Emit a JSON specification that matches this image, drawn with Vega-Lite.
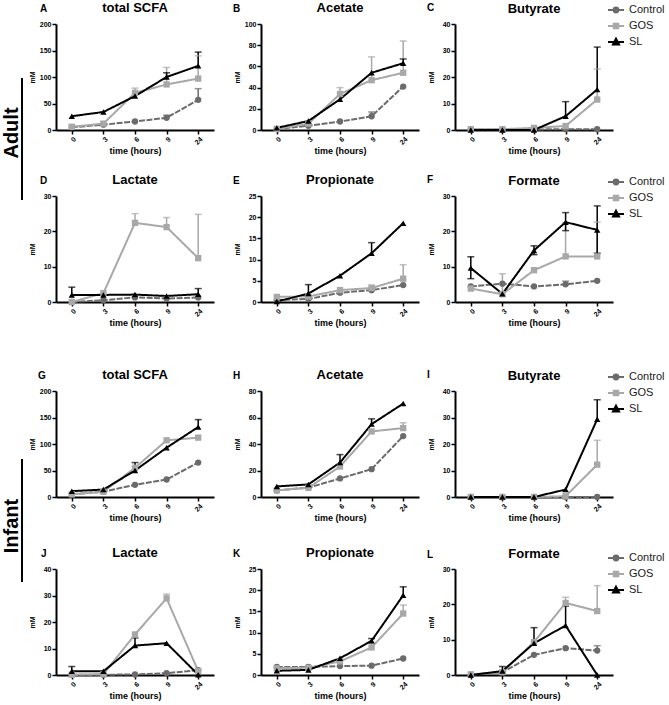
{
"$schema": "https://vega.github.io/schema/vega-lite/v6.json",
"padding": {"left": 0, "top": 1, "right": 0, "bottom": 0},
"config": {
 "view": {"stroke": null},
 "font": "Liberation Sans",
 "axis": {"domainColor": "#000", "domainWidth": 2, "tickColor": "#000", "tickWidth": 1.5, "tickSize": 4, "labelFont": "Liberation Sans", "labelFontWeight": "bold", "labelFontSize": 7, "labelColor": "#000", "titleFont": "Liberation Sans", "titleFontWeight": "bold", "titleColor": "#000", "grid": false},
 "axisX": {"labelAngle": -45, "titleFontSize": 9, "titlePadding": 1, "labelPadding": 1},
 "axisY": {"titleFontSize": 7, "minExtent": 19, "maxExtent": 19, "titlePadding": 2, "labelPadding": 1},
 "title": {"font": "Liberation Sans", "fontSize": 13, "fontWeight": "bold", "color": "#000", "offset": 5}
},
"datasets": {
"d": [
{"panel":"A","group":"Control","time":0,"mean":5},
{"panel":"A","group":"Control","time":3,"mean":10},
{"panel":"A","group":"Control","time":6,"mean":16},
{"panel":"A","group":"Control","time":9,"mean":23,"upper":28},
{"panel":"A","group":"Control","time":24,"mean":57,"upper":78},
{"panel":"A","group":"GOS","time":0,"mean":6,"upper":10},
{"panel":"A","group":"GOS","time":3,"mean":12},
{"panel":"A","group":"GOS","time":6,"mean":70,"upper":79},
{"panel":"A","group":"GOS","time":9,"mean":86,"upper":118},
{"panel":"A","group":"GOS","time":24,"mean":97,"upper":140},
{"panel":"A","group":"SL","time":0,"mean":26},
{"panel":"A","group":"SL","time":3,"mean":34},
{"panel":"A","group":"SL","time":6,"mean":64},
{"panel":"A","group":"SL","time":9,"mean":100,"upper":108},
{"panel":"A","group":"SL","time":24,"mean":121,"upper":147},
{"panel":"B","group":"Control","time":0,"mean":1},
{"panel":"B","group":"Control","time":3,"mean":4},
{"panel":"B","group":"Control","time":6,"mean":8},
{"panel":"B","group":"Control","time":9,"mean":13,"upper":17},
{"panel":"B","group":"Control","time":24,"mean":41},
{"panel":"B","group":"GOS","time":0,"mean":1},
{"panel":"B","group":"GOS","time":3,"mean":6},
{"panel":"B","group":"GOS","time":6,"mean":34,"upper":40},
{"panel":"B","group":"GOS","time":9,"mean":47,"upper":69},
{"panel":"B","group":"GOS","time":24,"mean":54,"upper":84},
{"panel":"B","group":"SL","time":0,"mean":2},
{"panel":"B","group":"SL","time":3,"mean":8.5},
{"panel":"B","group":"SL","time":6,"mean":29},
{"panel":"B","group":"SL","time":9,"mean":54},
{"panel":"B","group":"SL","time":24,"mean":63,"upper":67},
{"panel":"C","group":"Control","time":0,"mean":0.2},
{"panel":"C","group":"Control","time":3,"mean":0.2},
{"panel":"C","group":"Control","time":6,"mean":0.2},
{"panel":"C","group":"Control","time":9,"mean":0.3},
{"panel":"C","group":"Control","time":24,"mean":0.3},
{"panel":"C","group":"GOS","time":0,"mean":0.3},
{"panel":"C","group":"GOS","time":3,"mean":0.3},
{"panel":"C","group":"GOS","time":6,"mean":0.8},
{"panel":"C","group":"GOS","time":9,"mean":1.5},
{"panel":"C","group":"GOS","time":24,"mean":11.5,"upper":23},
{"panel":"C","group":"SL","time":0,"mean":0},
{"panel":"C","group":"SL","time":3,"mean":0},
{"panel":"C","group":"SL","time":6,"mean":0},
{"panel":"C","group":"SL","time":9,"mean":5.2,"upper":10.7},
{"panel":"C","group":"SL","time":24,"mean":15.3,"upper":31.3},
{"panel":"D","group":"Control","time":0,"mean":0},
{"panel":"D","group":"Control","time":3,"mean":0.5},
{"panel":"D","group":"Control","time":6,"mean":1.3},
{"panel":"D","group":"Control","time":9,"mean":1.0},
{"panel":"D","group":"Control","time":24,"mean":1.3},
{"panel":"D","group":"GOS","time":0,"mean":0},
{"panel":"D","group":"GOS","time":3,"mean":2.5},
{"panel":"D","group":"GOS","time":6,"mean":22.4,"upper":25},
{"panel":"D","group":"GOS","time":9,"mean":21.2,"upper":23.9},
{"panel":"D","group":"GOS","time":24,"mean":12.4,"upper":24.8},
{"panel":"D","group":"SL","time":0,"mean":2,"upper":4.2},
{"panel":"D","group":"SL","time":3,"mean":2},
{"panel":"D","group":"SL","time":6,"mean":2.1},
{"panel":"D","group":"SL","time":9,"mean":1.7},
{"panel":"D","group":"SL","time":24,"mean":2.2,"upper":3.8},
{"panel":"E","group":"Control","time":0,"mean":0.5},
{"panel":"E","group":"Control","time":3,"mean":0.7},
{"panel":"E","group":"Control","time":6,"mean":2.2},
{"panel":"E","group":"Control","time":9,"mean":2.8},
{"panel":"E","group":"Control","time":24,"mean":4.0},
{"panel":"E","group":"GOS","time":0,"mean":1.2},
{"panel":"E","group":"GOS","time":3,"mean":1.3},
{"panel":"E","group":"GOS","time":6,"mean":2.8},
{"panel":"E","group":"GOS","time":9,"mean":3.3,"upper":4},
{"panel":"E","group":"GOS","time":24,"mean":5.5,"upper":8.8},
{"panel":"E","group":"SL","time":0,"mean":0.1},
{"panel":"E","group":"SL","time":3,"mean":2,"upper":4.1},
{"panel":"E","group":"SL","time":6,"mean":6.2},
{"panel":"E","group":"SL","time":9,"mean":11.5,"upper":14},
{"panel":"E","group":"SL","time":24,"mean":18.6},
{"panel":"F","group":"Control","time":0,"mean":4.4},
{"panel":"F","group":"Control","time":3,"mean":5.2},
{"panel":"F","group":"Control","time":6,"mean":4.4},
{"panel":"F","group":"Control","time":9,"mean":5,"upper":5.9},
{"panel":"F","group":"Control","time":24,"mean":6},
{"panel":"F","group":"GOS","time":0,"mean":3.8},
{"panel":"F","group":"GOS","time":3,"mean":2.2,"upper":8},
{"panel":"F","group":"GOS","time":6,"mean":9},
{"panel":"F","group":"GOS","time":9,"mean":12.9,"upper":22.5},
{"panel":"F","group":"GOS","time":24,"mean":12.9,"upper":22.6},
{"panel":"F","group":"SL","time":0,"mean":9.6,"upper":12.8,"lower":6.6},
{"panel":"F","group":"SL","time":3,"mean":2.3},
{"panel":"F","group":"SL","time":6,"mean":14.6,"upper":15.9,"lower":13.4},
{"panel":"F","group":"SL","time":9,"mean":22.6,"upper":25.3,"lower":20.2},
{"panel":"F","group":"SL","time":24,"mean":20.4,"upper":27.2,"lower":13.8},
{"panel":"G","group":"Control","time":0,"mean":5},
{"panel":"G","group":"Control","time":3,"mean":10},
{"panel":"G","group":"Control","time":6,"mean":23},
{"panel":"G","group":"Control","time":9,"mean":33},
{"panel":"G","group":"Control","time":24,"mean":65},
{"panel":"G","group":"GOS","time":0,"mean":5},
{"panel":"G","group":"GOS","time":3,"mean":10},
{"panel":"G","group":"GOS","time":6,"mean":55},
{"panel":"G","group":"GOS","time":9,"mean":107},
{"panel":"G","group":"GOS","time":24,"mean":112},
{"panel":"G","group":"SL","time":0,"mean":11},
{"panel":"G","group":"SL","time":3,"mean":14},
{"panel":"G","group":"SL","time":6,"mean":50,"upper":65},
{"panel":"G","group":"SL","time":9,"mean":93},
{"panel":"G","group":"SL","time":24,"mean":132,"upper":146},
{"panel":"H","group":"Control","time":0,"mean":5},
{"panel":"H","group":"Control","time":3,"mean":7},
{"panel":"H","group":"Control","time":6,"mean":14},
{"panel":"H","group":"Control","time":9,"mean":21},
{"panel":"H","group":"Control","time":24,"mean":46},
{"panel":"H","group":"GOS","time":0,"mean":5},
{"panel":"H","group":"GOS","time":3,"mean":7},
{"panel":"H","group":"GOS","time":6,"mean":23},
{"panel":"H","group":"GOS","time":9,"mean":49.5},
{"panel":"H","group":"GOS","time":24,"mean":52,"upper":56},
{"panel":"H","group":"SL","time":0,"mean":8},
{"panel":"H","group":"SL","time":3,"mean":9.5},
{"panel":"H","group":"SL","time":6,"mean":26,"upper":32},
{"panel":"H","group":"SL","time":9,"mean":55,"upper":59},
{"panel":"H","group":"SL","time":24,"mean":70.5},
{"panel":"I","group":"Control","time":0,"mean":0},
{"panel":"I","group":"Control","time":3,"mean":0},
{"panel":"I","group":"Control","time":6,"mean":0},
{"panel":"I","group":"Control","time":9,"mean":0},
{"panel":"I","group":"Control","time":24,"mean":0},
{"panel":"I","group":"GOS","time":0,"mean":0},
{"panel":"I","group":"GOS","time":3,"mean":0},
{"panel":"I","group":"GOS","time":6,"mean":0},
{"panel":"I","group":"GOS","time":9,"mean":0.3},
{"panel":"I","group":"GOS","time":24,"mean":12.2,"upper":21.4},
{"panel":"I","group":"SL","time":0,"mean":0},
{"panel":"I","group":"SL","time":3,"mean":0},
{"panel":"I","group":"SL","time":6,"mean":0},
{"panel":"I","group":"SL","time":9,"mean":2.8},
{"panel":"I","group":"SL","time":24,"mean":29.3,"upper":36.7},
{"panel":"J","group":"Control","time":0,"mean":0.1},
{"panel":"J","group":"Control","time":3,"mean":0.1},
{"panel":"J","group":"Control","time":6,"mean":0.2},
{"panel":"J","group":"Control","time":9,"mean":0.7},
{"panel":"J","group":"Control","time":24,"mean":1.8},
{"panel":"J","group":"GOS","time":0,"mean":0.1},
{"panel":"J","group":"GOS","time":3,"mean":0.3},
{"panel":"J","group":"GOS","time":6,"mean":15.3},
{"panel":"J","group":"GOS","time":9,"mean":28.9,"upper":30.5},
{"panel":"J","group":"GOS","time":24,"mean":1.5},
{"panel":"J","group":"SL","time":0,"mean":1.4,"upper":3.2},
{"panel":"J","group":"SL","time":3,"mean":1.4},
{"panel":"J","group":"SL","time":6,"mean":11.1,"upper":14},
{"panel":"J","group":"SL","time":9,"mean":12},
{"panel":"J","group":"SL","time":24,"mean":0.1},
{"panel":"K","group":"Control","time":0,"mean":1.9},
{"panel":"K","group":"Control","time":3,"mean":1.9},
{"panel":"K","group":"Control","time":6,"mean":2.1},
{"panel":"K","group":"Control","time":9,"mean":2.2},
{"panel":"K","group":"Control","time":24,"mean":3.9},
{"panel":"K","group":"GOS","time":0,"mean":1.6},
{"panel":"K","group":"GOS","time":3,"mean":1.7},
{"panel":"K","group":"GOS","time":6,"mean":3.2},
{"panel":"K","group":"GOS","time":9,"mean":6.5,"upper":7.5},
{"panel":"K","group":"GOS","time":24,"mean":14.5,"upper":16.5},
{"panel":"K","group":"SL","time":0,"mean":1.0},
{"panel":"K","group":"SL","time":3,"mean":1.2},
{"panel":"K","group":"SL","time":6,"mean":3.95},
{"panel":"K","group":"SL","time":9,"mean":8.07,"upper":8.6},
{"panel":"K","group":"SL","time":24,"mean":18.8,"upper":20.8},
{"panel":"L","group":"Control","time":0,"mean":0},
{"panel":"L","group":"Control","time":3,"mean":0.8},
{"panel":"L","group":"Control","time":6,"mean":5.7},
{"panel":"L","group":"Control","time":9,"mean":7.6},
{"panel":"L","group":"Control","time":24,"mean":6.9,"upper":8.3},
{"panel":"L","group":"GOS","time":0,"mean":0.2},
{"panel":"L","group":"GOS","time":3,"mean":0.8},
{"panel":"L","group":"GOS","time":6,"mean":9.3},
{"panel":"L","group":"GOS","time":9,"mean":20.4,"upper":22},
{"panel":"L","group":"GOS","time":24,"mean":18.1,"upper":25.3},
{"panel":"L","group":"SL","time":0,"mean":0},
{"panel":"L","group":"SL","time":3,"mean":1.1,"upper":2.4},
{"panel":"L","group":"SL","time":6,"mean":9,"upper":13.4},
{"panel":"L","group":"SL","time":9,"mean":14,"upper":19.5},
{"panel":"L","group":"SL","time":24,"mean":0}
]
},
"vconcat": [
{"spacing": 4, "hconcat": [
 {"width": 24, "height": 300, "data": {"values": [{"group": "Adult"}]},
  "layer": [
   {"mark": {"type": "text", "angle": 270, "fontSize": 20, "fontWeight": "bold", "font": "Liberation Sans", "baseline": "middle", "align": "center", "color": "#000"},
    "encoding": {"text": {"field": "group"},
     "x": {"datum": 12, "type": "quantitative", "scale": {"domain": [0, 24], "nice": false, "zero": false}, "axis": null},
     "y": {"datum": 109, "type": "quantitative", "scale": {"domain": [0, 300], "reverse": true, "nice": false}, "axis": null}}},
   {"mark": {"type": "rule", "strokeWidth": 2, "color": "#000"},
    "encoding": {"x": {"datum": 22, "type": "quantitative", "scale": {"domain": [0, 24], "nice": false, "zero": false}, "axis": null},
     "y": {"datum": 54, "type": "quantitative", "scale": {"domain": [0, 300], "reverse": true, "nice": false}, "axis": null},
     "y2": {"datum": 176}}}
  ]},
 {"spacing": 17, "vconcat": [
  {"spacing": 19, "hconcat": [
   {"title": {"text": "A", "anchor": "start", "frame": "bounds", "fontSize": 10, "offset": -12, "dx": 12}, "vconcat": [
    {"width": 158, "height": 106, "title": {"text": "total SCFA"}, "data": {"name": "d"}, "transform": [{"filter": "datum.panel == 'A'"}],
     "encoding": {"x": {"field": "time", "type": "ordinal", "scale": {"type": "point", "domain": [0,3,6,9,24], "padding": 0.5}, "axis": {"title": "time (hours)"}},
      "y": {"field": "mean", "type": "quantitative", "scale": {"domain": [0, 200], "nice": false}, "axis": {"values": [0,50,100,150,200], "title": "mM"}}},
     "layer": [
      {"transform": [{"filter": "isValid(datum.upper)"}], "mark": {"type": "rule", "strokeWidth": 1.5}, "encoding": {"y2": {"field": "upper"}, "color": {"field": "group", "type": "nominal", "scale": {"domain": ["Control","GOS","SL"], "range": ["#6b6b6b","#a8a8a8","#000000"]}, "legend": null}}},
      {"transform": [{"filter": "isValid(datum.upper)"}], "mark": {"type": "tick", "thickness": 1.5, "size": 7}, "encoding": {"y": {"field": "upper", "type": "quantitative", "scale": {"domain": [0, 200], "nice": false}, "axis": {"values": [0,50,100,150,200], "title": "mM"}}, "color": {"field": "group", "type": "nominal", "legend": null}}},
      {"mark": {"type": "line", "strokeWidth": 2}, "encoding": {"color": {"field": "group", "type": "nominal", "legend": null}, "strokeDash": {"field": "group", "type": "nominal", "scale": {"domain": ["Control","GOS","SL"], "range": [[6,1.5],[1,0],[1,0]]}, "legend": null}}},
      {"mark": {"type": "point", "filled": true, "opacity": 1, "size": 40}, "encoding": {"color": {"field": "group", "type": "nominal", "legend": null}, "shape": {"field": "group", "type": "nominal", "scale": {"domain": ["Control","GOS","SL"], "range": ["circle","square","triangle-up"]}, "legend": null}}}
     ]}
   ]},
   {"spacing": 8, "hconcat": [
    {"title": {"text": "B", "anchor": "start", "frame": "bounds", "fontSize": 10, "offset": -12, "dx": 0}, "vconcat": [
     {"width": 158, "height": 106, "title": {"text": "Acetate"}, "data": {"name": "d"}, "transform": [{"filter": "datum.panel == 'B'"}],
      "encoding": {"x": {"field": "time", "type": "ordinal", "scale": {"type": "point", "domain": [0,3,6,9,24], "padding": 0.5}, "axis": {"title": "time (hours)"}},
       "y": {"field": "mean", "type": "quantitative", "scale": {"domain": [0, 100], "nice": false}, "axis": {"values": [0,20,40,60,80,100], "title": "mM"}}},
      "layer": [
       {"transform": [{"filter": "isValid(datum.upper)"}], "mark": {"type": "rule", "strokeWidth": 1.5}, "encoding": {"y2": {"field": "upper"}, "color": {"field": "group", "type": "nominal", "scale": {"domain": ["Control","GOS","SL"], "range": ["#6b6b6b","#a8a8a8","#000000"]}, "legend": null}}},
       {"transform": [{"filter": "isValid(datum.upper)"}], "mark": {"type": "tick", "thickness": 1.5, "size": 7}, "encoding": {"y": {"field": "upper", "type": "quantitative", "scale": {"domain": [0, 100], "nice": false}, "axis": {"values": [0,20,40,60,80,100], "title": "mM"}}, "color": {"field": "group", "type": "nominal", "legend": null}}},
       {"mark": {"type": "line", "strokeWidth": 2}, "encoding": {"color": {"field": "group", "type": "nominal", "legend": null}, "strokeDash": {"field": "group", "type": "nominal", "scale": {"domain": ["Control","GOS","SL"], "range": [[6,1.5],[1,0],[1,0]]}, "legend": null}}},
       {"mark": {"type": "point", "filled": true, "opacity": 1, "size": 40}, "encoding": {"color": {"field": "group", "type": "nominal", "legend": null}, "shape": {"field": "group", "type": "nominal", "scale": {"domain": ["Control","GOS","SL"], "range": ["circle","square","triangle-up"]}, "legend": null}}}
      ]}
    ]},
    {"title": {"text": "C", "anchor": "start", "frame": "bounds", "fontSize": 10, "offset": -12, "dx": 0}, "vconcat": [
     {"width": 158, "height": 106, "title": {"text": "Butyrate", "offset": -14.5}, "data": {"name": "d"}, "transform": [{"filter": "datum.panel == 'C'"}],
      "encoding": {"x": {"field": "time", "type": "ordinal", "scale": {"type": "point", "domain": [0,3,6,9,24], "padding": 0.5}, "axis": {"title": "time (hours)"}},
       "y": {"field": "mean", "type": "quantitative", "scale": {"domain": [0, 40], "nice": false}, "axis": {"values": [0,10,20,30,40], "title": "mM"}}},
      "resolve": {"scale": {"fill": "independent", "stroke": "independent", "shape": "independent"}},
      "layer": [
       {"transform": [{"filter": "isValid(datum.upper)"}], "mark": {"type": "rule", "strokeWidth": 1.5}, "encoding": {"y2": {"field": "upper"}, "color": {"field": "group", "type": "nominal", "scale": {"domain": ["Control","GOS","SL"], "range": ["#6b6b6b","#a8a8a8","#000000"]}, "legend": null}}},
       {"transform": [{"filter": "isValid(datum.upper)"}], "mark": {"type": "tick", "thickness": 1.5, "size": 7}, "encoding": {"y": {"field": "upper", "type": "quantitative", "scale": {"domain": [0, 40], "nice": false}, "axis": {"values": [0,10,20,30,40], "title": "mM"}}, "color": {"field": "group", "type": "nominal", "legend": null}}},
       {"mark": {"type": "line", "strokeWidth": 2}, "encoding": {"color": {"field": "group", "type": "nominal", "legend": null}, "strokeDash": {"field": "group", "type": "nominal", "scale": {"domain": ["Control","GOS","SL"], "range": [[6,1.5],[1,0],[1,0]]}, "legend": null}}},
       {"mark": {"type": "point", "filled": true, "opacity": 1, "size": 40}, "encoding": {"color": {"field": "group", "type": "nominal", "legend": null}, "shape": {"field": "group", "type": "nominal", "scale": {"domain": ["Control","GOS","SL"], "range": ["circle","square","triangle-up"]}, "legend": null}}},
       {"transform": [{"filter": "false"}], "mark": {"type": "point", "strokeWidth": 2, "size": 256, "opacity": 1},
        "encoding": {
         "fill": {"field": "group", "type": "nominal", "scale": {"domain": ["Control","GOS","SL"], "range": ["#6b6b6b","#a8a8a8","#000000"]}, "legend": {"orient": "none", "legendX": 152, "legendY": -23, "title": null, "symbolSize": 256, "symbolStrokeWidth": 2, "labelFontSize": 11, "labelFont": "Liberation Sans", "labelColor": "#1a1a1a", "rowPadding": 0, "labelOffset": 4, "padding": 0}},
         "stroke": {"field": "group", "type": "nominal", "scale": {"domain": ["Control","GOS","SL"], "range": ["#6b6b6b","#a8a8a8","#000000"]}, "legend": {"orient": "none", "legendX": 152, "legendY": -23, "title": null, "symbolSize": 256, "symbolStrokeWidth": 2, "labelFontSize": 11, "labelFont": "Liberation Sans", "labelColor": "#1a1a1a", "rowPadding": 0, "labelOffset": 4, "padding": 0}},
         "shape": {"field": "group", "type": "nominal", "scale": {"domain": ["Control","GOS","SL"], "range": ["M-1,0H1M0.3,0A0.3,0.3,0,1,1,-0.3,0A0.3,0.3,0,1,1,0.3,0Z", "M-1,0H1M-0.28,-0.28H0.28V0.28H-0.28Z", "M-1,0H1M0,-0.42L0.38,0.3L-0.38,0.3Z"]}, "legend": {"orient": "none", "legendX": 152, "legendY": -23, "title": null, "symbolSize": 256, "symbolStrokeWidth": 2, "labelFontSize": 11, "labelFont": "Liberation Sans", "labelColor": "#1a1a1a", "rowPadding": 0, "labelOffset": 4, "padding": 0}}
        }}
      ]}
    ]}
   ]}
  ]},
  {"spacing": 19, "hconcat": [
   {"title": {"text": "D", "anchor": "start", "frame": "bounds", "fontSize": 10, "offset": -12, "dx": 12}, "vconcat": [
    {"width": 158, "height": 106, "title": {"text": "Lactate"}, "data": {"name": "d"}, "transform": [{"filter": "datum.panel == 'D'"}],
     "encoding": {"x": {"field": "time", "type": "ordinal", "scale": {"type": "point", "domain": [0,3,6,9,24], "padding": 0.5}, "axis": {"title": "time (hours)"}},
      "y": {"field": "mean", "type": "quantitative", "scale": {"domain": [0, 30], "nice": false}, "axis": {"values": [0,10,20,30], "title": "mM"}}},
     "layer": [
      {"transform": [{"filter": "isValid(datum.upper)"}], "mark": {"type": "rule", "strokeWidth": 1.5}, "encoding": {"y2": {"field": "upper"}, "color": {"field": "group", "type": "nominal", "scale": {"domain": ["Control","GOS","SL"], "range": ["#6b6b6b","#a8a8a8","#000000"]}, "legend": null}}},
      {"transform": [{"filter": "isValid(datum.upper)"}], "mark": {"type": "tick", "thickness": 1.5, "size": 7}, "encoding": {"y": {"field": "upper", "type": "quantitative", "scale": {"domain": [0, 30], "nice": false}, "axis": {"values": [0,10,20,30], "title": "mM"}}, "color": {"field": "group", "type": "nominal", "legend": null}}},
      {"mark": {"type": "line", "strokeWidth": 2}, "encoding": {"color": {"field": "group", "type": "nominal", "legend": null}, "strokeDash": {"field": "group", "type": "nominal", "scale": {"domain": ["Control","GOS","SL"], "range": [[6,1.5],[1,0],[1,0]]}, "legend": null}}},
      {"mark": {"type": "point", "filled": true, "opacity": 1, "size": 40}, "encoding": {"color": {"field": "group", "type": "nominal", "legend": null}, "shape": {"field": "group", "type": "nominal", "scale": {"domain": ["Control","GOS","SL"], "range": ["circle","square","triangle-up"]}, "legend": null}}}
     ]}
   ]},
   {"spacing": 8, "hconcat": [
    {"title": {"text": "E", "anchor": "start", "frame": "bounds", "fontSize": 10, "offset": -12, "dx": 0}, "vconcat": [
     {"width": 158, "height": 106, "title": {"text": "Propionate"}, "data": {"name": "d"}, "transform": [{"filter": "datum.panel == 'E'"}],
      "encoding": {"x": {"field": "time", "type": "ordinal", "scale": {"type": "point", "domain": [0,3,6,9,24], "padding": 0.5}, "axis": {"title": "time (hours)"}},
       "y": {"field": "mean", "type": "quantitative", "scale": {"domain": [0, 25], "nice": false}, "axis": {"values": [0,5,10,15,20,25], "title": "mM"}}},
      "layer": [
       {"transform": [{"filter": "isValid(datum.upper)"}], "mark": {"type": "rule", "strokeWidth": 1.5}, "encoding": {"y2": {"field": "upper"}, "color": {"field": "group", "type": "nominal", "scale": {"domain": ["Control","GOS","SL"], "range": ["#6b6b6b","#a8a8a8","#000000"]}, "legend": null}}},
       {"transform": [{"filter": "isValid(datum.upper)"}], "mark": {"type": "tick", "thickness": 1.5, "size": 7}, "encoding": {"y": {"field": "upper", "type": "quantitative", "scale": {"domain": [0, 25], "nice": false}, "axis": {"values": [0,5,10,15,20,25], "title": "mM"}}, "color": {"field": "group", "type": "nominal", "legend": null}}},
       {"mark": {"type": "line", "strokeWidth": 2}, "encoding": {"color": {"field": "group", "type": "nominal", "legend": null}, "strokeDash": {"field": "group", "type": "nominal", "scale": {"domain": ["Control","GOS","SL"], "range": [[6,1.5],[1,0],[1,0]]}, "legend": null}}},
       {"mark": {"type": "point", "filled": true, "opacity": 1, "size": 40}, "encoding": {"color": {"field": "group", "type": "nominal", "legend": null}, "shape": {"field": "group", "type": "nominal", "scale": {"domain": ["Control","GOS","SL"], "range": ["circle","square","triangle-up"]}, "legend": null}}}
      ]}
    ]},
    {"title": {"text": "F", "anchor": "start", "frame": "bounds", "fontSize": 10, "offset": -12, "dx": 0}, "vconcat": [
     {"width": 158, "height": 106, "title": {"text": "Formate", "offset": -14.5}, "data": {"name": "d"}, "transform": [{"filter": "datum.panel == 'F'"}],
      "encoding": {"x": {"field": "time", "type": "ordinal", "scale": {"type": "point", "domain": [0,3,6,9,24], "padding": 0.5}, "axis": {"title": "time (hours)"}},
       "y": {"field": "mean", "type": "quantitative", "scale": {"domain": [0, 30], "nice": false}, "axis": {"values": [0,10,20,30], "title": "mM"}}},
      "resolve": {"scale": {"fill": "independent", "stroke": "independent", "shape": "independent"}},
      "layer": [
       {"transform": [{"filter": "isValid(datum.upper)"}], "mark": {"type": "rule", "strokeWidth": 1.5}, "encoding": {"y2": {"field": "upper"}, "color": {"field": "group", "type": "nominal", "scale": {"domain": ["Control","GOS","SL"], "range": ["#6b6b6b","#a8a8a8","#000000"]}, "legend": null}}},
       {"transform": [{"filter": "isValid(datum.upper)"}], "mark": {"type": "tick", "thickness": 1.5, "size": 7}, "encoding": {"y": {"field": "upper", "type": "quantitative", "scale": {"domain": [0, 30], "nice": false}, "axis": {"values": [0,10,20,30], "title": "mM"}}, "color": {"field": "group", "type": "nominal", "legend": null}}},
       {"transform": [{"filter": "isValid(datum.lower)"}], "mark": {"type": "rule", "strokeWidth": 1.5}, "encoding": {"y2": {"field": "lower"}, "color": {"field": "group", "type": "nominal", "legend": null}}},
       {"transform": [{"filter": "isValid(datum.lower)"}], "mark": {"type": "tick", "thickness": 1.5, "size": 7}, "encoding": {"y": {"field": "lower", "type": "quantitative", "scale": {"domain": [0, 30], "nice": false}, "axis": {"values": [0,10,20,30], "title": "mM"}}, "color": {"field": "group", "type": "nominal", "legend": null}}},
       {"mark": {"type": "line", "strokeWidth": 2}, "encoding": {"color": {"field": "group", "type": "nominal", "legend": null}, "strokeDash": {"field": "group", "type": "nominal", "scale": {"domain": ["Control","GOS","SL"], "range": [[6,1.5],[1,0],[1,0]]}, "legend": null}}},
       {"mark": {"type": "point", "filled": true, "opacity": 1, "size": 40}, "encoding": {"color": {"field": "group", "type": "nominal", "legend": null}, "shape": {"field": "group", "type": "nominal", "scale": {"domain": ["Control","GOS","SL"], "range": ["circle","square","triangle-up"]}, "legend": null}}},
       {"transform": [{"filter": "false"}], "mark": {"type": "point", "strokeWidth": 2, "size": 256, "opacity": 1},
        "encoding": {
         "fill": {"field": "group", "type": "nominal", "scale": {"domain": ["Control","GOS","SL"], "range": ["#6b6b6b","#a8a8a8","#000000"]}, "legend": {"orient": "none", "legendX": 152, "legendY": -23, "title": null, "symbolSize": 256, "symbolStrokeWidth": 2, "labelFontSize": 11, "labelFont": "Liberation Sans", "labelColor": "#1a1a1a", "rowPadding": 0, "labelOffset": 4, "padding": 0}},
         "stroke": {"field": "group", "type": "nominal", "scale": {"domain": ["Control","GOS","SL"], "range": ["#6b6b6b","#a8a8a8","#000000"]}, "legend": {"orient": "none", "legendX": 152, "legendY": -23, "title": null, "symbolSize": 256, "symbolStrokeWidth": 2, "labelFontSize": 11, "labelFont": "Liberation Sans", "labelColor": "#1a1a1a", "rowPadding": 0, "labelOffset": 4, "padding": 0}},
         "shape": {"field": "group", "type": "nominal", "scale": {"domain": ["Control","GOS","SL"], "range": ["M-1,0H1M0.3,0A0.3,0.3,0,1,1,-0.3,0A0.3,0.3,0,1,1,0.3,0Z", "M-1,0H1M-0.28,-0.28H0.28V0.28H-0.28Z", "M-1,0H1M0,-0.42L0.38,0.3L-0.38,0.3Z"]}, "legend": {"orient": "none", "legendX": 152, "legendY": -23, "title": null, "symbolSize": 256, "symbolStrokeWidth": 2, "labelFontSize": 11, "labelFont": "Liberation Sans", "labelColor": "#1a1a1a", "rowPadding": 0, "labelOffset": 4, "padding": 0}}
        }}
      ]}
    ]}
   ]}
  ]}
 ]}
]},
{"spacing": 4, "hconcat": [
 {"width": 24, "height": 300, "data": {"values": [{"group": "Infant"}]},
  "layer": [
   {"mark": {"type": "text", "angle": 270, "fontSize": 20, "fontWeight": "bold", "font": "Liberation Sans", "baseline": "middle", "align": "center", "color": "#000"},
    "encoding": {"text": {"field": "group"},
     "x": {"datum": 12, "type": "quantitative", "scale": {"domain": [0, 24], "nice": false, "zero": false}, "axis": null},
     "y": {"datum": 135, "type": "quantitative", "scale": {"domain": [0, 300], "reverse": true, "nice": false}, "axis": null}}},
   {"mark": {"type": "rule", "strokeWidth": 2, "color": "#000"},
    "encoding": {"x": {"datum": 22, "type": "quantitative", "scale": {"domain": [0, 24], "nice": false, "zero": false}, "axis": null},
     "y": {"datum": 68, "type": "quantitative", "scale": {"domain": [0, 300], "reverse": true, "nice": false}, "axis": null},
     "y2": {"datum": 191}}}
  ]},
 {"spacing": 24, "vconcat": [
  {"spacing": 19, "hconcat": [
   {"title": {"text": "G", "anchor": "start", "frame": "bounds", "fontSize": 10, "offset": -12, "dx": 10}, "vconcat": [
    {"width": 158, "height": 106, "title": {"text": "total SCFA"}, "data": {"name": "d"}, "transform": [{"filter": "datum.panel == 'G'"}],
     "encoding": {"x": {"field": "time", "type": "ordinal", "scale": {"type": "point", "domain": [0,3,6,9,24], "padding": 0.5}, "axis": {"title": "time (hours)"}},
      "y": {"field": "mean", "type": "quantitative", "scale": {"domain": [0, 200], "nice": false}, "axis": {"values": [0,50,100,150,200], "title": "mM"}}},
     "layer": [
      {"transform": [{"filter": "isValid(datum.upper)"}], "mark": {"type": "rule", "strokeWidth": 1.5}, "encoding": {"y2": {"field": "upper"}, "color": {"field": "group", "type": "nominal", "scale": {"domain": ["Control","GOS","SL"], "range": ["#6b6b6b","#a8a8a8","#000000"]}, "legend": null}}},
      {"transform": [{"filter": "isValid(datum.upper)"}], "mark": {"type": "tick", "thickness": 1.5, "size": 7}, "encoding": {"y": {"field": "upper", "type": "quantitative", "scale": {"domain": [0, 200], "nice": false}, "axis": {"values": [0,50,100,150,200], "title": "mM"}}, "color": {"field": "group", "type": "nominal", "legend": null}}},
      {"mark": {"type": "line", "strokeWidth": 2}, "encoding": {"color": {"field": "group", "type": "nominal", "legend": null}, "strokeDash": {"field": "group", "type": "nominal", "scale": {"domain": ["Control","GOS","SL"], "range": [[6,1.5],[1,0],[1,0]]}, "legend": null}}},
      {"mark": {"type": "point", "filled": true, "opacity": 1, "size": 40}, "encoding": {"color": {"field": "group", "type": "nominal", "legend": null}, "shape": {"field": "group", "type": "nominal", "scale": {"domain": ["Control","GOS","SL"], "range": ["circle","square","triangle-up"]}, "legend": null}}}
     ]}
   ]},
   {"spacing": 8, "hconcat": [
    {"title": {"text": "H", "anchor": "start", "frame": "bounds", "fontSize": 10, "offset": -12, "dx": 0}, "vconcat": [
     {"width": 158, "height": 106, "title": {"text": "Acetate"}, "data": {"name": "d"}, "transform": [{"filter": "datum.panel == 'H'"}],
      "encoding": {"x": {"field": "time", "type": "ordinal", "scale": {"type": "point", "domain": [0,3,6,9,24], "padding": 0.5}, "axis": {"title": "time (hours)"}},
       "y": {"field": "mean", "type": "quantitative", "scale": {"domain": [0, 80], "nice": false}, "axis": {"values": [0,20,40,60,80], "title": "mM"}}},
      "layer": [
       {"transform": [{"filter": "isValid(datum.upper)"}], "mark": {"type": "rule", "strokeWidth": 1.5}, "encoding": {"y2": {"field": "upper"}, "color": {"field": "group", "type": "nominal", "scale": {"domain": ["Control","GOS","SL"], "range": ["#6b6b6b","#a8a8a8","#000000"]}, "legend": null}}},
       {"transform": [{"filter": "isValid(datum.upper)"}], "mark": {"type": "tick", "thickness": 1.5, "size": 7}, "encoding": {"y": {"field": "upper", "type": "quantitative", "scale": {"domain": [0, 80], "nice": false}, "axis": {"values": [0,20,40,60,80], "title": "mM"}}, "color": {"field": "group", "type": "nominal", "legend": null}}},
       {"mark": {"type": "line", "strokeWidth": 2}, "encoding": {"color": {"field": "group", "type": "nominal", "legend": null}, "strokeDash": {"field": "group", "type": "nominal", "scale": {"domain": ["Control","GOS","SL"], "range": [[6,1.5],[1,0],[1,0]]}, "legend": null}}},
       {"mark": {"type": "point", "filled": true, "opacity": 1, "size": 40}, "encoding": {"color": {"field": "group", "type": "nominal", "legend": null}, "shape": {"field": "group", "type": "nominal", "scale": {"domain": ["Control","GOS","SL"], "range": ["circle","square","triangle-up"]}, "legend": null}}}
      ]}
    ]},
    {"title": {"text": "I", "anchor": "start", "frame": "bounds", "fontSize": 10, "offset": -12, "dx": 0}, "vconcat": [
     {"width": 158, "height": 106, "title": {"text": "Butyrate", "offset": -14.5}, "data": {"name": "d"}, "transform": [{"filter": "datum.panel == 'I'"}],
      "encoding": {"x": {"field": "time", "type": "ordinal", "scale": {"type": "point", "domain": [0,3,6,9,24], "padding": 0.5}, "axis": {"title": "time (hours)"}},
       "y": {"field": "mean", "type": "quantitative", "scale": {"domain": [0, 40], "nice": false}, "axis": {"values": [0,10,20,30,40], "title": "mM"}}},
      "resolve": {"scale": {"fill": "independent", "stroke": "independent", "shape": "independent"}},
      "layer": [
       {"transform": [{"filter": "isValid(datum.upper)"}], "mark": {"type": "rule", "strokeWidth": 1.5}, "encoding": {"y2": {"field": "upper"}, "color": {"field": "group", "type": "nominal", "scale": {"domain": ["Control","GOS","SL"], "range": ["#6b6b6b","#a8a8a8","#000000"]}, "legend": null}}},
       {"transform": [{"filter": "isValid(datum.upper)"}], "mark": {"type": "tick", "thickness": 1.5, "size": 7}, "encoding": {"y": {"field": "upper", "type": "quantitative", "scale": {"domain": [0, 40], "nice": false}, "axis": {"values": [0,10,20,30,40], "title": "mM"}}, "color": {"field": "group", "type": "nominal", "legend": null}}},
       {"mark": {"type": "line", "strokeWidth": 2}, "encoding": {"color": {"field": "group", "type": "nominal", "legend": null}, "strokeDash": {"field": "group", "type": "nominal", "scale": {"domain": ["Control","GOS","SL"], "range": [[6,1.5],[1,0],[1,0]]}, "legend": null}}},
       {"mark": {"type": "point", "filled": true, "opacity": 1, "size": 40}, "encoding": {"color": {"field": "group", "type": "nominal", "legend": null}, "shape": {"field": "group", "type": "nominal", "scale": {"domain": ["Control","GOS","SL"], "range": ["circle","square","triangle-up"]}, "legend": null}}},
       {"transform": [{"filter": "false"}], "mark": {"type": "point", "strokeWidth": 2, "size": 256, "opacity": 1},
        "encoding": {
         "fill": {"field": "group", "type": "nominal", "scale": {"domain": ["Control","GOS","SL"], "range": ["#6b6b6b","#a8a8a8","#000000"]}, "legend": {"orient": "none", "legendX": 152, "legendY": -23, "title": null, "symbolSize": 256, "symbolStrokeWidth": 2, "labelFontSize": 11, "labelFont": "Liberation Sans", "labelColor": "#1a1a1a", "rowPadding": 0, "labelOffset": 4, "padding": 0}},
         "stroke": {"field": "group", "type": "nominal", "scale": {"domain": ["Control","GOS","SL"], "range": ["#6b6b6b","#a8a8a8","#000000"]}, "legend": {"orient": "none", "legendX": 152, "legendY": -23, "title": null, "symbolSize": 256, "symbolStrokeWidth": 2, "labelFontSize": 11, "labelFont": "Liberation Sans", "labelColor": "#1a1a1a", "rowPadding": 0, "labelOffset": 4, "padding": 0}},
         "shape": {"field": "group", "type": "nominal", "scale": {"domain": ["Control","GOS","SL"], "range": ["M-1,0H1M0.3,0A0.3,0.3,0,1,1,-0.3,0A0.3,0.3,0,1,1,0.3,0Z", "M-1,0H1M-0.28,-0.28H0.28V0.28H-0.28Z", "M-1,0H1M0,-0.42L0.38,0.3L-0.38,0.3Z"]}, "legend": {"orient": "none", "legendX": 152, "legendY": -23, "title": null, "symbolSize": 256, "symbolStrokeWidth": 2, "labelFontSize": 11, "labelFont": "Liberation Sans", "labelColor": "#1a1a1a", "rowPadding": 0, "labelOffset": 4, "padding": 0}}
        }}
      ]}
    ]}
   ]}
  ]},
  {"spacing": 19, "hconcat": [
   {"title": {"text": "J", "anchor": "start", "frame": "bounds", "fontSize": 10, "offset": -12, "dx": 13}, "vconcat": [
    {"width": 158, "height": 106, "title": {"text": "Lactate"}, "data": {"name": "d"}, "transform": [{"filter": "datum.panel == 'J'"}],
     "encoding": {"x": {"field": "time", "type": "ordinal", "scale": {"type": "point", "domain": [0,3,6,9,24], "padding": 0.5}, "axis": {"title": "time (hours)"}},
      "y": {"field": "mean", "type": "quantitative", "scale": {"domain": [0, 40], "nice": false}, "axis": {"values": [0,10,20,30,40], "title": "mM"}}},
     "layer": [
      {"transform": [{"filter": "isValid(datum.upper)"}], "mark": {"type": "rule", "strokeWidth": 1.5}, "encoding": {"y2": {"field": "upper"}, "color": {"field": "group", "type": "nominal", "scale": {"domain": ["Control","GOS","SL"], "range": ["#6b6b6b","#a8a8a8","#000000"]}, "legend": null}}},
      {"transform": [{"filter": "isValid(datum.upper)"}], "mark": {"type": "tick", "thickness": 1.5, "size": 7}, "encoding": {"y": {"field": "upper", "type": "quantitative", "scale": {"domain": [0, 40], "nice": false}, "axis": {"values": [0,10,20,30,40], "title": "mM"}}, "color": {"field": "group", "type": "nominal", "legend": null}}},
      {"mark": {"type": "line", "strokeWidth": 2}, "encoding": {"color": {"field": "group", "type": "nominal", "legend": null}, "strokeDash": {"field": "group", "type": "nominal", "scale": {"domain": ["Control","GOS","SL"], "range": [[6,1.5],[1,0],[1,0]]}, "legend": null}}},
      {"mark": {"type": "point", "filled": true, "opacity": 1, "size": 40}, "encoding": {"color": {"field": "group", "type": "nominal", "legend": null}, "shape": {"field": "group", "type": "nominal", "scale": {"domain": ["Control","GOS","SL"], "range": ["circle","square","triangle-up"]}, "legend": null}}}
     ]}
   ]},
   {"spacing": 8, "hconcat": [
    {"title": {"text": "K", "anchor": "start", "frame": "bounds", "fontSize": 10, "offset": -12, "dx": 0}, "vconcat": [
     {"width": 158, "height": 106, "title": {"text": "Propionate"}, "data": {"name": "d"}, "transform": [{"filter": "datum.panel == 'K'"}],
      "encoding": {"x": {"field": "time", "type": "ordinal", "scale": {"type": "point", "domain": [0,3,6,9,24], "padding": 0.5}, "axis": {"title": "time (hours)"}},
       "y": {"field": "mean", "type": "quantitative", "scale": {"domain": [0, 25], "nice": false}, "axis": {"values": [0,5,10,15,20,25], "title": "mM"}}},
      "layer": [
       {"transform": [{"filter": "isValid(datum.upper)"}], "mark": {"type": "rule", "strokeWidth": 1.5}, "encoding": {"y2": {"field": "upper"}, "color": {"field": "group", "type": "nominal", "scale": {"domain": ["Control","GOS","SL"], "range": ["#6b6b6b","#a8a8a8","#000000"]}, "legend": null}}},
       {"transform": [{"filter": "isValid(datum.upper)"}], "mark": {"type": "tick", "thickness": 1.5, "size": 7}, "encoding": {"y": {"field": "upper", "type": "quantitative", "scale": {"domain": [0, 25], "nice": false}, "axis": {"values": [0,5,10,15,20,25], "title": "mM"}}, "color": {"field": "group", "type": "nominal", "legend": null}}},
       {"mark": {"type": "line", "strokeWidth": 2}, "encoding": {"color": {"field": "group", "type": "nominal", "legend": null}, "strokeDash": {"field": "group", "type": "nominal", "scale": {"domain": ["Control","GOS","SL"], "range": [[6,1.5],[1,0],[1,0]]}, "legend": null}}},
       {"mark": {"type": "point", "filled": true, "opacity": 1, "size": 40}, "encoding": {"color": {"field": "group", "type": "nominal", "legend": null}, "shape": {"field": "group", "type": "nominal", "scale": {"domain": ["Control","GOS","SL"], "range": ["circle","square","triangle-up"]}, "legend": null}}}
      ]}
    ]},
    {"title": {"text": "L", "anchor": "start", "frame": "bounds", "fontSize": 10, "offset": -12, "dx": 0}, "vconcat": [
     {"width": 158, "height": 106, "title": {"text": "Formate", "offset": -11.5}, "data": {"name": "d"}, "transform": [{"filter": "datum.panel == 'L'"}],
      "encoding": {"x": {"field": "time", "type": "ordinal", "scale": {"type": "point", "domain": [0,3,6,9,24], "padding": 0.5}, "axis": {"title": "time (hours)"}},
       "y": {"field": "mean", "type": "quantitative", "scale": {"domain": [0, 30], "nice": false}, "axis": {"values": [0,10,20,30], "title": "mM"}}},
      "resolve": {"scale": {"fill": "independent", "stroke": "independent", "shape": "independent"}},
      "layer": [
       {"transform": [{"filter": "isValid(datum.upper)"}], "mark": {"type": "rule", "strokeWidth": 1.5}, "encoding": {"y2": {"field": "upper"}, "color": {"field": "group", "type": "nominal", "scale": {"domain": ["Control","GOS","SL"], "range": ["#6b6b6b","#a8a8a8","#000000"]}, "legend": null}}},
       {"transform": [{"filter": "isValid(datum.upper)"}], "mark": {"type": "tick", "thickness": 1.5, "size": 7}, "encoding": {"y": {"field": "upper", "type": "quantitative", "scale": {"domain": [0, 30], "nice": false}, "axis": {"values": [0,10,20,30], "title": "mM"}}, "color": {"field": "group", "type": "nominal", "legend": null}}},
       {"mark": {"type": "line", "strokeWidth": 2}, "encoding": {"color": {"field": "group", "type": "nominal", "legend": null}, "strokeDash": {"field": "group", "type": "nominal", "scale": {"domain": ["Control","GOS","SL"], "range": [[6,1.5],[1,0],[1,0]]}, "legend": null}}},
       {"mark": {"type": "point", "filled": true, "opacity": 1, "size": 40}, "encoding": {"color": {"field": "group", "type": "nominal", "legend": null}, "shape": {"field": "group", "type": "nominal", "scale": {"domain": ["Control","GOS","SL"], "range": ["circle","square","triangle-up"]}, "legend": null}}},
       {"transform": [{"filter": "false"}], "mark": {"type": "point", "strokeWidth": 2, "size": 256, "opacity": 1},
        "encoding": {
         "fill": {"field": "group", "type": "nominal", "scale": {"domain": ["Control","GOS","SL"], "range": ["#6b6b6b","#a8a8a8","#000000"]}, "legend": {"orient": "none", "legendX": 152, "legendY": -20, "title": null, "symbolSize": 256, "symbolStrokeWidth": 2, "labelFontSize": 11, "labelFont": "Liberation Sans", "labelColor": "#1a1a1a", "rowPadding": 0, "labelOffset": 4, "padding": 0}},
         "stroke": {"field": "group", "type": "nominal", "scale": {"domain": ["Control","GOS","SL"], "range": ["#6b6b6b","#a8a8a8","#000000"]}, "legend": {"orient": "none", "legendX": 152, "legendY": -20, "title": null, "symbolSize": 256, "symbolStrokeWidth": 2, "labelFontSize": 11, "labelFont": "Liberation Sans", "labelColor": "#1a1a1a", "rowPadding": 0, "labelOffset": 4, "padding": 0}},
         "shape": {"field": "group", "type": "nominal", "scale": {"domain": ["Control","GOS","SL"], "range": ["M-1,0H1M0.3,0A0.3,0.3,0,1,1,-0.3,0A0.3,0.3,0,1,1,0.3,0Z", "M-1,0H1M-0.28,-0.28H0.28V0.28H-0.28Z", "M-1,0H1M0,-0.42L0.38,0.3L-0.38,0.3Z"]}, "legend": {"orient": "none", "legendX": 152, "legendY": -20, "title": null, "symbolSize": 256, "symbolStrokeWidth": 2, "labelFontSize": 11, "labelFont": "Liberation Sans", "labelColor": "#1a1a1a", "rowPadding": 0, "labelOffset": 4, "padding": 0}}
        }}
      ]}
    ]}
   ]}
  ]}
 ]}
]}
],
"spacing": 40
}
